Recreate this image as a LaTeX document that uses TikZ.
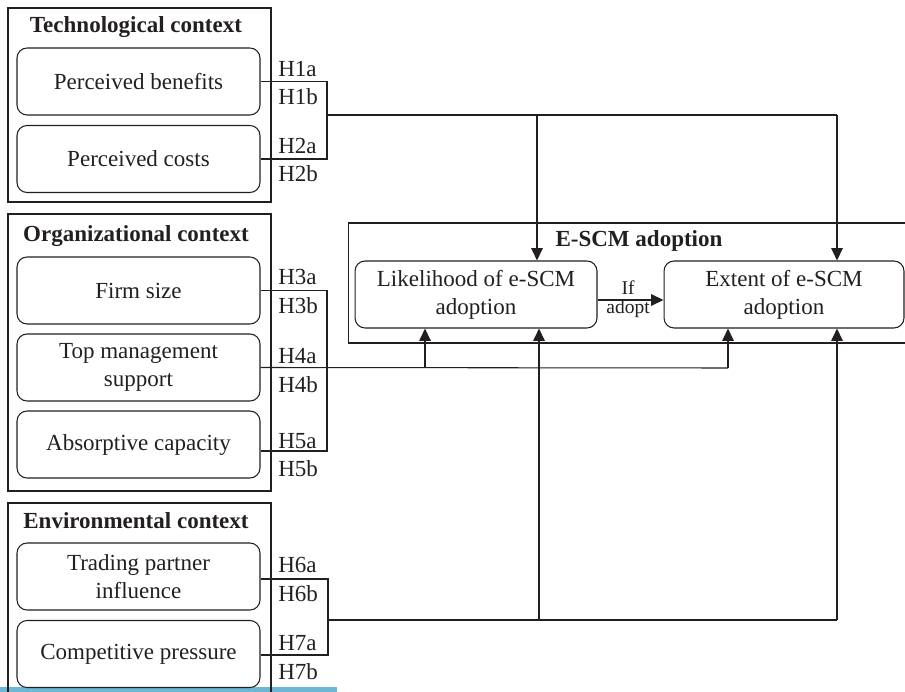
\documentclass[tikz,border=0pt]{standalone}
\usepackage{fontspec}
\setmainfont{Liberation Serif}
\usetikzlibrary{arrows.meta}
\definecolor{ink}{HTML}{231F20}
\definecolor{pagebar}{HTML}{6DB6D4}

\begin{document}
\begin{tikzpicture}[
    x=0.02cm, y=-0.02cm,
    every node/.style={text=ink},
    context/.style={rectangle, draw=ink, line width=0.6pt, minimum width=5.26cm},
    factor/.style={rectangle, draw=ink, rounded corners=0.2cm, line width=0.6pt, minimum width=4.86cm, minimum height=1.34cm, align=center, font=\fontsize{13.1}{15.9}\selectfont},
    heading/.style={anchor=base, inner sep=0pt, font=\bfseries\fontsize{13.1}{15.9}\selectfont},
    hyp/.style={anchor=base west, inner sep=0pt, font=\fontsize{13.1}{15.9}\selectfont},
    link/.style={draw=ink, line width=0.6pt},
    effect/.style={draw=ink, line width=0.8pt, -{Triangle[length=7pt,width=6.5pt]}}
]
    \useasboundingbox (0,0) rectangle (905,692);
    \fill[pagebar] (0,687) rectangle (337,692);

    % Technological context
    \node[context, minimum height=3.88cm] (tech) at (139.5,105) {};
    \node[heading] (tech-title) at (136,33) {Technological context};
    \node[factor] (benefits) at (138.5,81.5) {Perceived benefits};
    \node[factor] (costs) at (138.5,159) {Perceived costs};

    % Organizational context
    \node[context, minimum height=5.54cm] (org) at (139.5,352.5) {};
    \node[heading] (org-title) at (136,242) {Organizational context};
    \node[factor] (size) at (138.5,290.5) {Firm size};
    \node[factor] (topmgmt) at (138.5,367.5) {Top management\\support};
    \node[factor] (absorb) at (138.5,444.5) {Absorptive capacity};

    % Environmental context
    \node[context, minimum height=4.4cm] (env) at (139.5,613) {};
    \node[heading] (env-title) at (136,528) {Environmental context};
    \node[factor] (partner) at (138.5,576.5) {Trading partner\\influence};
    \node[factor] (pressure) at (138.5,654) {Competitive pressure};

    % E-SCM adoption
    \node[context, minimum width=11.34cm, minimum height=2.4cm] (escm) at (631.5,283) {};
    \node[heading] (escm-title) at (639,247) {E-SCM adoption};
    \node[factor, minimum width=4.84cm] (likely) at (476,294.5) {Likelihood of e-SCM\\adoption};
    \node[factor, minimum width=4.8cm] (extent) at (784,294.5) {Extent of e-SCM\\adoption};

    \draw[effect] (likely.east |- 0,300) -- (extent.west |- 0,300);
    \node[font=\fontsize{11.1}{13}\selectfont, inner sep=0pt] (if) at (628,288) {If};
    \node[font=\fontsize{11.1}{13}\selectfont, inner sep=0pt] (adopt) at (628,309) {adopt};

    % junctions
    \coordinate (tech-j) at (327,115);
    \coordinate (tech-a) at (537,115);
    \coordinate (tech-b) at (837,115);
    \coordinate (org-j) at (327,368);
    \coordinate (org-a) at (425,368);
    \coordinate (org-b) at (728,368);
    \coordinate (env-j) at (328,620);
    \coordinate (env-a) at (539,620);
    \coordinate (env-b) at (837,620);

    % technological links
    \draw[link] (benefits.east) -| (tech-j) |- (costs.east);
    \draw[link] (tech-j) -- (tech-b);
    \draw[effect] (tech-a) -- (tech-a |- likely.north);
    \draw[effect] (tech-b) -- (tech-b |- extent.north);

    % organizational links
    \draw[link] (size.east) -| (org-j) |- (absorb.east |- 0,451);
    \draw[link] (topmgmt.east) -- (org-b);
    \draw[effect] (org-a) -- (org-a |- likely.south);
    \draw[effect] (org-b) -- (org-b |- extent.south);

    % environmental links
    \draw[link] (partner.east |- 0,579) -| (env-j) |- (pressure.east |- 0,655);
    \draw[link] (env-j) -- (env-b);
    \draw[effect] (env-a) -- (env-a |- likely.south);
    \draw[effect] (env-b) -- (env-b |- extent.south);

    % hypotheses
    \node[hyp] (h1a) at (278,77) {H1a};
    \node[hyp] (h1b) at (278,105) {H1b};
    \node[hyp] (h2a) at (278,154) {H2a};
    \node[hyp] (h2b) at (278,182) {H2b};
    \node[hyp] (h3a) at (278,285) {H3a};
    \node[hyp] (h3b) at (278,314) {H3b};
    \node[hyp] (h4a) at (278,363) {H4a};
    \node[hyp] (h4b) at (278,392) {H4b};
    \node[hyp] (h5a) at (278,448) {H5a};
    \node[hyp] (h5b) at (278,476) {H5b};
    \node[hyp] (h6a) at (278,572) {H6a};
    \node[hyp] (h6b) at (278,601) {H6b};
    \node[hyp] (h7a) at (278,650) {H7a};
    \node[hyp] (h7b) at (278,679) {H7b};
\end{tikzpicture}
\end{document}
